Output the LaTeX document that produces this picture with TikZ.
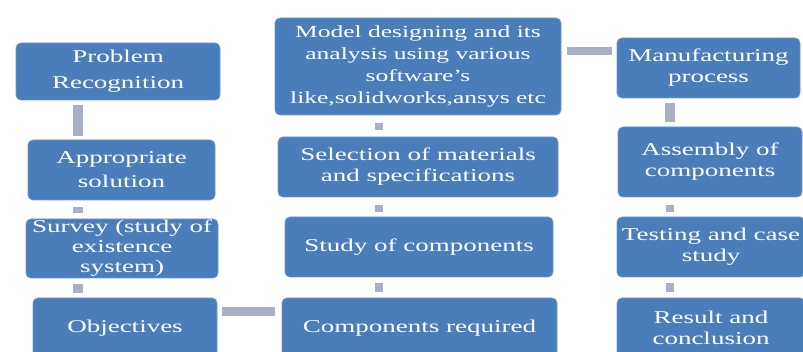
\documentclass[tikz,border=0pt]{standalone}
\usepackage{fontspec}
\setmainfont[FakeStretch=1.5]{Liberation Serif}
\definecolor{boxblue}{HTML}{4A7EBB}
\definecolor{boxedge}{HTML}{6F98CB}
\definecolor{conngray}{HTML}{A8B0C6}
\tikzset{
  pbox/.style={rectangle, rounded corners=5pt, fill=boxblue, draw=boxedge,
    line width=0.8pt, text=white, align=center, inner sep=0pt,
    font=\fontsize{18}{21}\selectfont},
  conn/.style={draw=conngray, line width=10pt},
}
\begin{document}
\begin{tikzpicture}[x=1pt,y=-1pt]
\useasboundingbox (0,0) rectangle (803,352);
\fill[white] (0,0) rectangle (803,352);
\clip (0,0) rectangle (803,352);
% left column
\node[pbox, minimum width=204pt, minimum height=57pt, font=\fontsize{18}{26}\selectfont] (pr) at (118,71.5) {Problem\\Recognition};
\node[pbox, minimum width=187pt, minimum height=60pt, font=\fontsize{18}{24}\selectfont] (as) at (121.5,170) {Appropriate\\solution};
\node[pbox, minimum width=192pt, minimum height=59pt, font=\fontsize{18}{20}\selectfont] (sv) at (122,248.5) {Survey (study of\\existence\\system)};
\node[pbox, minimum width=184pt, minimum height=60pt] (ob) at (125,328) {Objectives};
% middle column
\node[pbox, minimum width=286pt, minimum height=97pt, font=\fontsize{17}{22}\selectfont] (md) at (418,66.5) {Model designing and its\\analysis using various\\software’s\\like,solidworks,ansys etc};
\node[pbox, minimum width=280pt, minimum height=60pt] (se) at (418,167) {Selection of materials\\and specifications};
\node[pbox, minimum width=268pt, minimum height=60pt] (st) at (419,247) {Study of components};
\node[pbox, minimum width=275pt, minimum height=60pt] (cr) at (419.5,328) {Components required};
% right column
\node[pbox, minimum width=183pt, minimum height=60pt] (mf) at (708.5,68) {Manufacturing\\process};
\node[pbox, minimum width=184pt, minimum height=70pt] (ac) at (710,162) {Assembly of\\components};
\node[pbox, minimum width=188pt, minimum height=60pt] (tc) at (711,247) {Testing and case\\study};
\node[pbox, minimum width=188pt, minimum height=60pt] (rc) at (711,328) {Result and\\conclusion};
% connector guides
\coordinate (cL) at (78,0);
\coordinate (cM) at (379,0);
\coordinate (cR) at (670,0);
\coordinate (hA) at (0,312);
\coordinate (hB) at (0,51);
% vertical connectors
\draw[conn, shorten <=5pt, shorten >=4pt] (pr.south -| cL) -- (as.north -| cL);
\draw[conn, shorten <=7pt, shorten >=6pt] (as.south -| cL) -- (sv.north -| cL);
\draw[conn, shorten <=6pt, shorten >=5pt] (sv.south -| cL) -- (ob.north -| cL);
\draw[conn, line width=8pt, shorten <=8pt, shorten >=7pt] (md.south -| cM) -- (se.north -| cM);
\draw[conn, line width=8pt, shorten <=8pt, shorten >=5pt] (se.south -| cM) -- (st.north -| cM);
\draw[conn, line width=8pt, shorten <=6pt, shorten >=6pt] (st.south -| cM) -- (cr.north -| cM);
\draw[conn, shorten <=5pt, shorten >=5pt] (mf.south -| cR) -- (ac.north -| cR);
\draw[conn, line width=8pt, shorten <=8pt, shorten >=5pt] (ac.south -| cR) -- (tc.north -| cR);
\draw[conn, line width=8pt, shorten <=6pt, shorten >=6pt] (tc.south -| cR) -- (rc.north -| cR);
% horizontal connectors
\draw[conn, line width=9pt, shorten <=5pt, shorten >=7pt] (ob.east |- hA) -- (cr.west |- hA);
\draw[conn, line width=8pt, shorten <=6pt, shorten >=5pt] (md.east |- hB) -- (mf.west |- hB);
\end{tikzpicture}
\end{document}
